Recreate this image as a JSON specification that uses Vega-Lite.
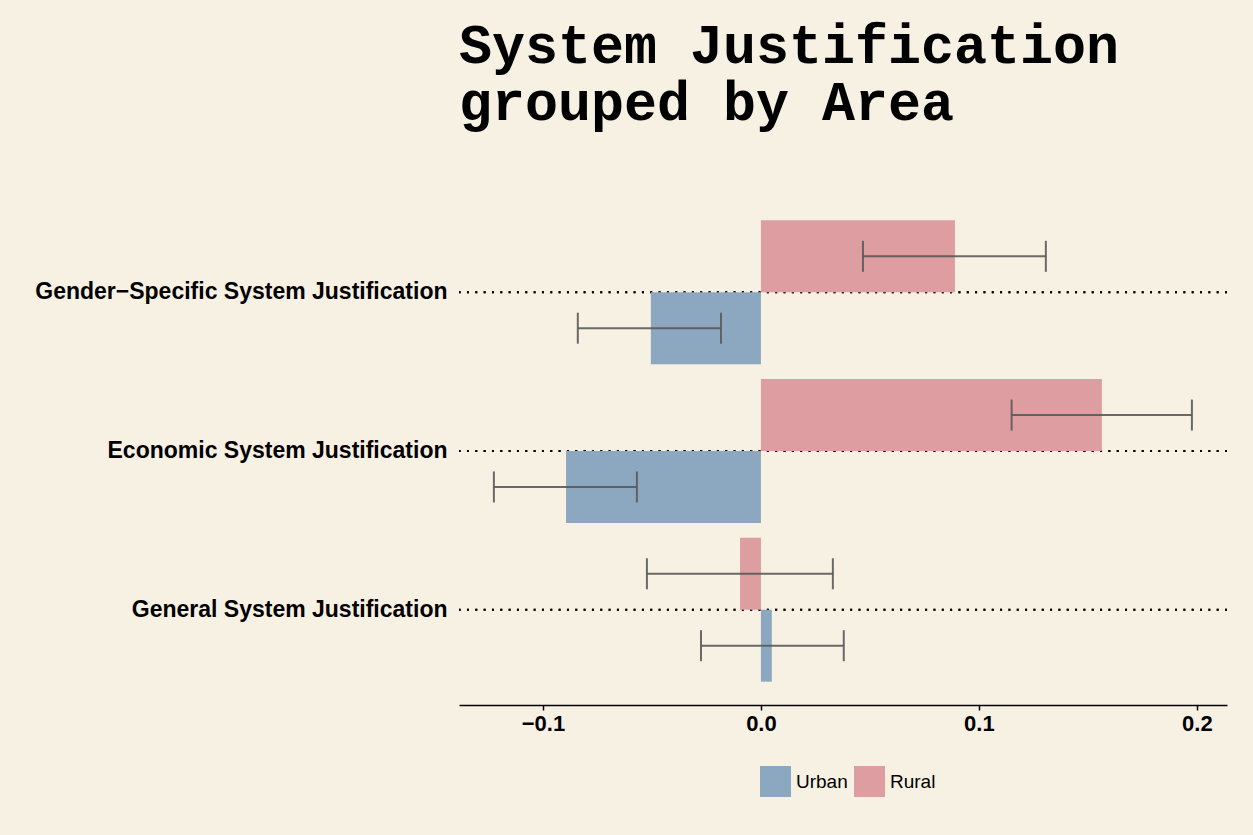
{
  "$schema": "https://vega.github.io/schema/vega-lite/v6.json",
  "autosize": "none",
  "width": 768,
  "height": 508,
  "padding": {"left": 459, "top": 197, "right": 26, "bottom": 130},
  "background": "#F7F1E4",
  "config": {
    "view": {"stroke": null, "fill": "#F7F1E4"},
    "font": "Liberation Sans"
  },
  "title": {
    "text": ["System Justification", "grouped by Area"],
    "font": "Liberation Mono",
    "fontSize": 55,
    "fontWeight": "bold",
    "color": "#000000",
    "anchor": "start",
    "frame": "group",
    "lineHeight": 57,
    "baseline": "alphabetic",
    "offset": 22
  },
  "data": {
    "values": [
      {"measure": "Gender−Specific System Justification", "area": "Rural", "mean": 0.089, "lo": 0.0468, "hi": 0.1307},
      {"measure": "Gender−Specific System Justification", "area": "Urban", "mean": -0.0505, "lo": -0.084, "hi": -0.0183},
      {"measure": "Economic System Justification", "area": "Rural", "mean": 0.1564, "lo": 0.115, "hi": 0.1977},
      {"measure": "Economic System Justification", "area": "Urban", "mean": -0.0894, "lo": -0.1225, "hi": -0.0569},
      {"measure": "General System Justification", "area": "Rural", "mean": -0.0096, "lo": -0.0523, "hi": 0.033},
      {"measure": "General System Justification", "area": "Urban", "mean": 0.005, "lo": -0.0275, "hi": 0.038}
    ]
  },
  "encoding": {
    "y": {
      "field": "measure",
      "type": "nominal",
      "sort": ["Gender−Specific System Justification", "Economic System Justification", "General System Justification"],
      "scale": {"paddingInner": 0, "paddingOuter": 0.1},
      "axis": {
        "title": null,
        "domain": false,
        "ticks": false,
        "labelFont": "Liberation Sans",
        "labelFontSize": 23,
        "labelFontWeight": "bold",
        "labelColor": "#000000",
        "labelPadding": 12,
        "labelLimit": 500
      }
    }
  },
  "layer": [
    {
      "mark": {"type": "rule", "color": "#000000", "strokeWidth": 2, "strokeDash": [2, 6.33]},
      "encoding": {}
    },
    {
      "mark": {"type": "bar"},
      "encoding": {
        "yOffset": {"field": "area", "type": "nominal", "sort": ["Rural", "Urban"], "scale": {"paddingInner": 0, "paddingOuter": 0.104}},
        "x": {
          "field": "mean",
          "type": "quantitative",
          "scale": {"domain": [-0.1385, 0.2138], "nice": false, "zero": false},
          "axis": {
            "title": null,
            "values": [-0.1, 0, 0.1, 0.2],
            "format": ".1f",
            "grid": false,
            "domainColor": "#000000",
            "domainWidth": 1.5,
            "tickColor": "#000000",
            "tickWidth": 1.5,
            "tickSize": 5,
            "labelFont": "Liberation Sans",
            "labelFontSize": 22,
            "labelFontWeight": "bold",
            "labelColor": "#000000",
            "labelPadding": 3
          }
        },
        "x2": {"datum": 0},
        "color": {
          "field": "area",
          "type": "nominal",
          "scale": {"domain": ["Urban", "Rural"], "range": ["#8CA8C1", "#DE9DA0"]},
          "legend": {
            "title": null,
            "orient": "none",
            "direction": "horizontal",
            "legendX": 301,
            "legendY": 569,
            "symbolType": "square",
            "symbolSize": 961,
            "symbolStrokeWidth": 0,
            "symbolOpacity": 1,
            "labelFont": "Liberation Sans",
            "labelFontSize": 19,
            "labelColor": "#000000",
            "labelOffset": 5,
            "columnPadding": 6
          }
        }
      }
    },
    {
      "mark": {"type": "rule", "color": "#5a5a5a", "strokeWidth": 2, "opacity": 0.9},
      "encoding": {
        "yOffset": {"field": "area", "type": "nominal", "sort": ["Rural", "Urban"]},
        "x": {"field": "lo", "type": "quantitative"},
        "x2": {"field": "hi"}
      }
    },
    {
      "mark": {"type": "tick", "color": "#5a5a5a", "thickness": 2, "size": 31, "opacity": 0.9},
      "encoding": {
        "yOffset": {"field": "area", "type": "nominal", "sort": ["Rural", "Urban"]},
        "x": {"field": "lo", "type": "quantitative"}
      }
    },
    {
      "mark": {"type": "tick", "color": "#5a5a5a", "thickness": 2, "size": 31, "opacity": 0.9},
      "encoding": {
        "yOffset": {"field": "area", "type": "nominal", "sort": ["Rural", "Urban"]},
        "x": {"field": "hi", "type": "quantitative"}
      }
    }
  ]
}
